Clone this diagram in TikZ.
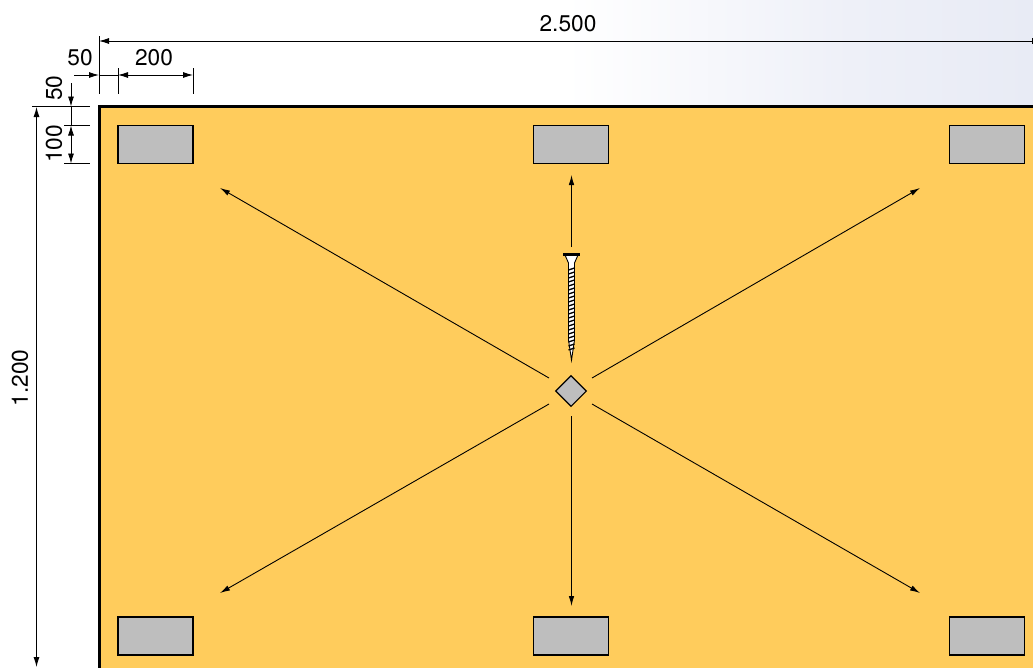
\documentclass[tikz,border=0pt]{standalone}
\usepackage{fontspec}
\setmainfont{TeX Gyre Heros}
\usetikzlibrary{arrows.meta,shapes.geometric}
\definecolor{plate}{RGB}{255,204,92}
\definecolor{fixgrey}{RGB}{190,190,190}
\definecolor{hazemid}{RGB}{238,240,248}
\definecolor{haze}{RGB}{232,235,245}
\tikzset{
  x=1pt,y=-1pt,
  thin line/.style={line width=0.9pt,draw=black},
  dimline/.style={thin line,arrows={-Latex[length=10pt,width=6pt]}},
  forcearrow/.style={thin line,arrows={-Latex[length=10pt,width=5.5pt]}},
  pad/.style={draw=black,fill=fixgrey,line width=1.1pt,minimum width=75pt,minimum height=38pt,inner sep=0pt,outer sep=0pt},
  label/.style={font=\fontsize{22.7}{24}\selectfont,inner sep=0pt,text=black}
}
\begin{document}
\begin{tikzpicture}
\useasboundingbox (0,0) rectangle (1033,667);
\clip (0,0) rectangle (1033,667);
\shade[left color=white,right color=hazemid] (565,0) rectangle (850.5,106);
\shade[left color=hazemid,right color=haze] (850,0) rectangle (1033,106);
\draw[line width=3pt,fill=plate] (99,106.5) rectangle (1045,680);

% pads
\node[pad] (p1) at (155.5,144.3) {};
\node[pad] (p2) at (571,144.3) {};
\node[pad] (p3) at (987,144.3) {};
\node[pad] (p4) at (155.5,636) {};
\node[pad] (p5) at (571,636) {};
\node[pad] (p6) at (987,636) {};
\node[diamond,draw=black,fill=fixgrey,line width=1.1pt,minimum width=31pt,minimum height=31pt,inner sep=0pt,aspect=1] (d) at (571,391) {};

% force arrows
\coordinate (sU) at (571.5,247); \coordinate (eU) at (571.5,175);
\coordinate (sD) at (571.5,416); \coordinate (eD) at (571.5,606);
\coordinate (sUL) at (549,378); \coordinate (eUL) at (220,188);
\coordinate (sUR) at (592,378); \coordinate (eUR) at (920,188);
\coordinate (sDL) at (549,404); \coordinate (eDL) at (220,593);
\coordinate (sDR) at (592,404); \coordinate (eDR) at (920,593);
\foreach \n in {U,D,UL,UR,DL,DR} \draw[forcearrow] (s\n) -- (e\n);

% screw
\fill[white,draw=black,line width=0.9pt] (565,255) -- (578,255) -- (574.5,263) -- (574.5,340) -- (571.5,360) -- (568.5,340) -- (568.5,263) -- cycle;
\draw[line width=2.6pt] (563,254.5) -- (580,254.5);
\foreach \y in {268,272,...,348} \draw[line width=1.3pt] (568.5,\y+2) -- (574.5,\y);

% dimension extension lines
\coordinate (xa) at (99,36); \coordinate (xb) at (99,94);
\coordinate (xc) at (118,68); \coordinate (xd) at (118,94);
\coordinate (xe) at (193,68); \coordinate (xf) at (193,94);
\coordinate (xg) at (1032.6,38); \coordinate (xh) at (1032.6,44);
\draw[thin line] (xa) -- (xb);
\draw[thin line] (xc) -- (xd);
\draw[thin line] (xe) -- (xf);
\draw[thin line] (xg) -- (xh);
\coordinate (ya) at (32,106.5); \coordinate (yb) at (90,106.5);
\coordinate (yc) at (64,125.5); \coordinate (yd) at (90,125.5);
\coordinate (ye) at (64,163.5); \coordinate (yf) at (90,163.5);
\draw[thin line] (ya) -- (yb);
\draw[thin line] (yc) -- (yd);
\draw[thin line] (ye) -- (yf);

% dimensions
\coordinate (d1a) at (99,41); \coordinate (d1b) at (1033,41);
\draw[dimline] (d1b) -- (d1a);
\coordinate (d2a) at (74,75); \coordinate (d2b) at (99,75);
\draw[dimline] (d2a) -- (d2b);
\coordinate (d2c) at (118,75);
\draw[thin line] (d2b) -- (d2c);
\coordinate (d3b) at (193,75);
\draw[thin line,arrows={Latex[length=10pt,width=6pt]-Latex[length=10pt,width=6pt]}] (d2c) -- (d3b);
\coordinate (d4a) at (71,83); \coordinate (d4b) at (71,106.5);
\draw[dimline] (d4a) -- (d4b);
\coordinate (d4c) at (71,125.5);
\draw[thin line] (d4b) -- (d4c);
\coordinate (d5b) at (71,163.5);
\draw[thin line,arrows={Latex[length=10pt,width=6pt]-Latex[length=10pt,width=6pt]}] (d4c) -- (d5b);
\coordinate (d6a) at (36.5,107); \coordinate (d6b) at (36.5,667);
\draw[thin line,arrows={Latex[length=10pt,width=6pt]-Latex[length=10pt,width=6pt]}] (d6a) -- (d6b);

% labels
\node[label] (t1) at (568,23.5) {2.500};
\node[label] (t2) at (80,58) {50};
\node[label] (t3) at (154,58) {200};
\node[label,rotate=90] (t4) at (54,88) {50};
\node[label,rotate=90] (t5) at (54,144) {100};
\node[label,rotate=90] (t6) at (20,378) {1.200};
\end{tikzpicture}
\end{document}
